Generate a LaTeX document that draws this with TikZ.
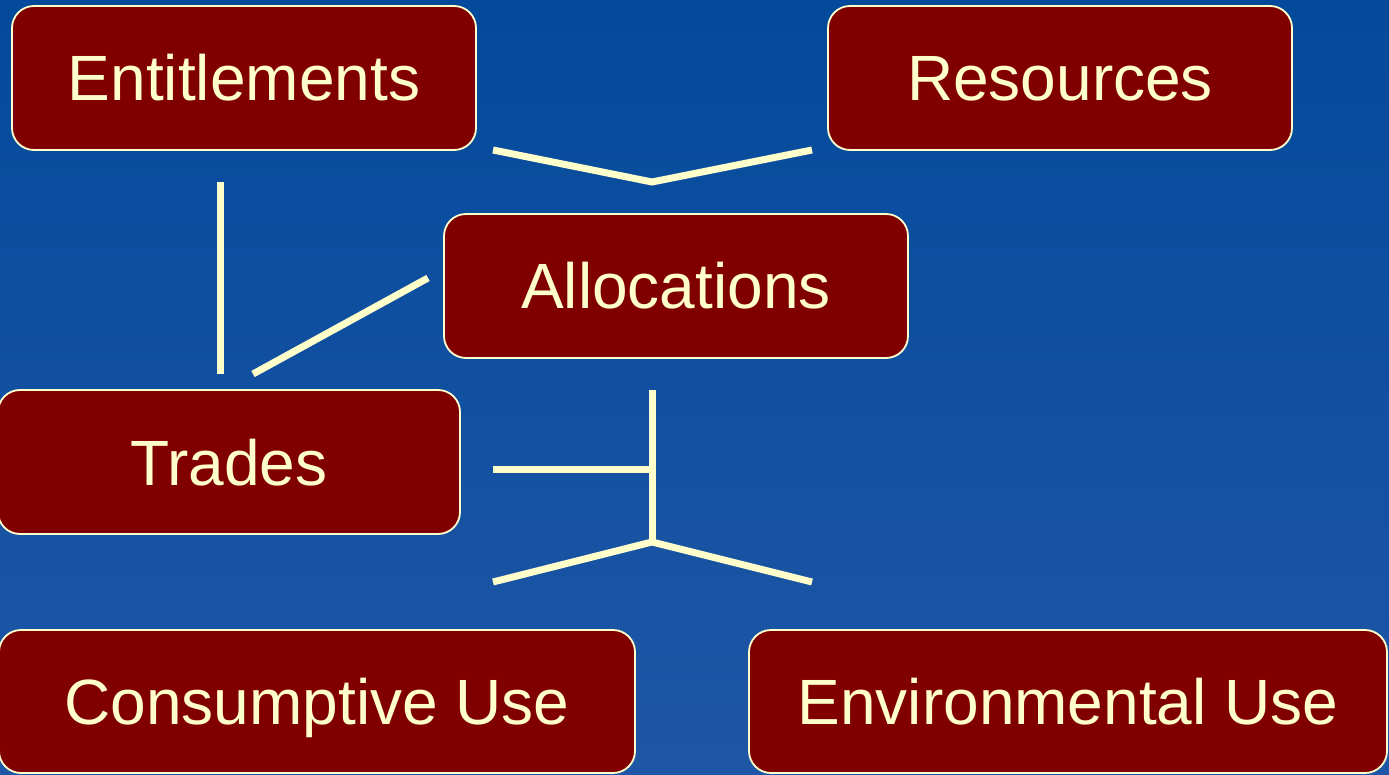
\documentclass[tikz,border=0pt]{standalone}
\usepackage{fontspec}
\setmainfont{Liberation Sans}
\usetikzlibrary{calc}
\definecolor{bgtop}{RGB}{3,74,155}
\definecolor{bgmid}{RGB}{5,76,156}
\definecolor{bgbot}{RGB}{32,86,166}
\definecolor{boxred}{RGB}{128,0,0}
\definecolor{cream}{RGB}{255,255,204}
\tikzset{
  box/.style={draw=cream, line width=1.8pt, fill=boxred, rounded corners=22pt,
    minimum height=144pt, inner sep=0pt, text=cream,
    text height=46pt, text depth=0pt,
    font=\fontsize{64}{76}\selectfont},
  link/.style={draw=cream, line width=7pt, line cap=butt, line join=miter},
}
\begin{document}
\begin{tikzpicture}[x=1pt,y=-1pt]
\useasboundingbox (0,0) rectangle (1389,775);
\shade[top color=bgtop, middle color=bgmid, bottom color=bgbot] (0,0) rectangle (1389,775);
% boxes
\node[box, minimum width=464pt] (ent) at (244,78) {Entitlements};
\node[box, minimum width=464pt] (res) at (1060,78) {Resources};
\node[box, minimum width=464pt] (all) at (676,286) {Allocations};
\node[box, minimum width=462pt] (tra) at (229,462) {Trades};
\node[box, minimum width=636pt, minimum height=143pt] (con) at (317,701.5) {Consumptive Use};
\node[box, minimum width=638pt, minimum height=143pt] (env) at (1068,701.5) {Environmental Use};
% connector end points
\coordinate (entR) at (493,150);
\coordinate (resL) at (812,150);
\coordinate (allT) at (652,182);
\coordinate (entB) at (220,182);
\coordinate (traT) at (220,374);
\coordinate (allL) at (428,278);
\coordinate (traR) at (253,374);
\coordinate (allB) at (652,390);
\coordinate (hub)  at (652,542);
\coordinate (traE) at (493,469);
\coordinate (traJ) at (652,469);
\coordinate (conT) at (493,582);
\coordinate (envT) at (812,582);
% connectors
\draw[link] (entR) -- (allT) -- (resL);
\draw[link] (entB) -- (traT);
\draw[link] (allL) -- (traR);
\draw[link] (allB) -- (hub);
\draw[link] (traE) -- (traJ);
\draw[link] (conT) -- (hub) -- (envT);
\end{tikzpicture}
\end{document}
